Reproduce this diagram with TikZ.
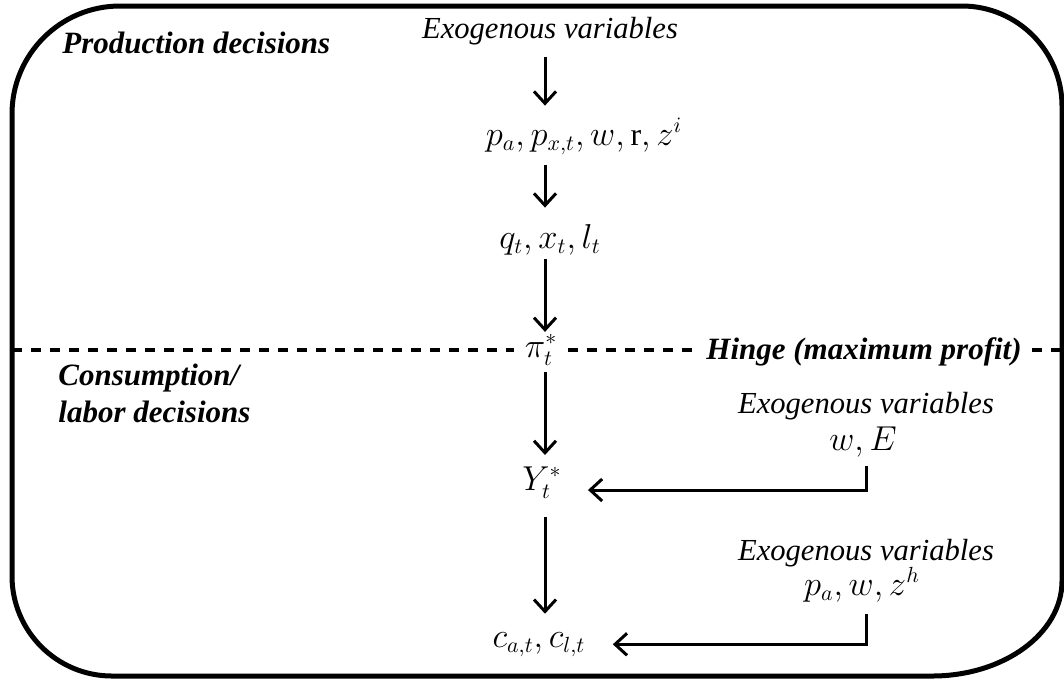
\documentclass[tikz,border=0pt]{standalone}
\usepackage{fontspec}
\setmainfont{Liberation Serif}
\usetikzlibrary{arrows.meta,calc}
\begin{document}
\begin{tikzpicture}[x=0.5pt,y=-0.5pt,
  lbl/.style={font=\bfseries\itshape\fontsize{15.5}{18}\selectfont, inner sep=0pt},
  exo/.style={font=\itshape\fontsize{15.3}{18}\selectfont, inner sep=0pt},
  mth/.style={font=\fontsize{16}{19}\selectfont, inner sep=0pt},
  arr/.style={line width=1.5pt, -{Straight Barb[length=6pt,width=11pt]}},
  divider/.style={line width=1.75pt, dash pattern=on 5pt off 4.5pt},
  frame/.style={line width=2.5pt}]
\useasboundingbox (0,0) rectangle (1064,682);
\draw[frame] (120,6) -- (962,6) .. controls (1017.2,6) and (1062,50.8) .. (1062,106)
  -- (1062,581) .. controls (1062,633.5) and (1003.8,676) .. (932,676)
  -- (112,676) .. controls (56.8,676) and (12,631.2) .. (12,576)
  -- (12,114) .. controls (12,54.4) and (60.4,6) .. (120,6) -- cycle;
\coordinate (colx) at (545,0);
\coordinate (ex) at (866,0);
\node[lbl, anchor=base west] (prod) at (62,53) {Production decisions};
\node[exo, anchor=base] (exo1) at (550,38) {Exogenous variables};
\node[mth, anchor=base] (pline) at (584,145) {$p_a, p_{x,t}, w, \mathrm{r}, z^i$};
\node[mth, anchor=base] (qline) at (550,248) {$q_t, x_t, l_t$};
\node[mth, anchor=base] (pi) at (541,357) {$\pi_t^*$};
\node[lbl, anchor=base east] (hinge) at (1022,359) {Hinge (maximum profit)};
\node[lbl, anchor=base west] (cons1) at (58,385) {Consumption/};
\node[lbl, anchor=base west] (cons2) at (58,422) {labor decisions};
\node[exo, anchor=base] (exo2) at (866,413) {Exogenous variables};
\node[mth, anchor=base] (we) at (863,450) {$w, E$};
\node[mth, anchor=base] (Y) at (542,490) {$Y_t^*$};
\node[exo, anchor=base] (exo3) at (866,560) {Exogenous variables};
\node[mth, anchor=base] (pwz) at (862,595) {$p_a, w, z^h$};
\node[mth, anchor=base] (c) at (539,647) {$c_{a,t}, c_{l,t}$};
\draw[arr, shorten <=6pt, shorten >=6pt] (exo1.south -| colx) -- (pline.north -| colx);
\draw[arr, shorten <=5pt, shorten >=8pt] (pline.south -| colx) -- (qline.north -| colx);
\draw[arr, shorten <=2pt, shorten >=1pt] (qline.south -| colx) -- (pi.north -| colx);
\draw[arr, shorten <=3pt, shorten >=5.5pt] (pi.south -| colx) -- (Y.north -| colx);
\draw[arr, shorten <=9pt, shorten >=9pt] (Y.south -| colx) -- (c.north -| colx);
\draw[arr, shorten <=4.5pt, shorten >=13pt] (we.south -| ex) |- (Y.base east);
\draw[arr, shorten <=6pt, shorten >=13.5pt] (pwz.south -| ex) |- (c.east);
\coordinate (dl) at (12,350);
\coordinate (dr) at (1064,350);
\draw[divider] (dl) -- ($(pi.west |- dl)+(-10,0)$);
\draw[divider] ($(pi.east |- dl)+(10,0)$) -- ($(hinge.west |- dl)+(-10,0)$);
\draw[divider] ($(hinge.east |- dl)+(10,0)$) -- (dr);
\end{tikzpicture}
\end{document}
